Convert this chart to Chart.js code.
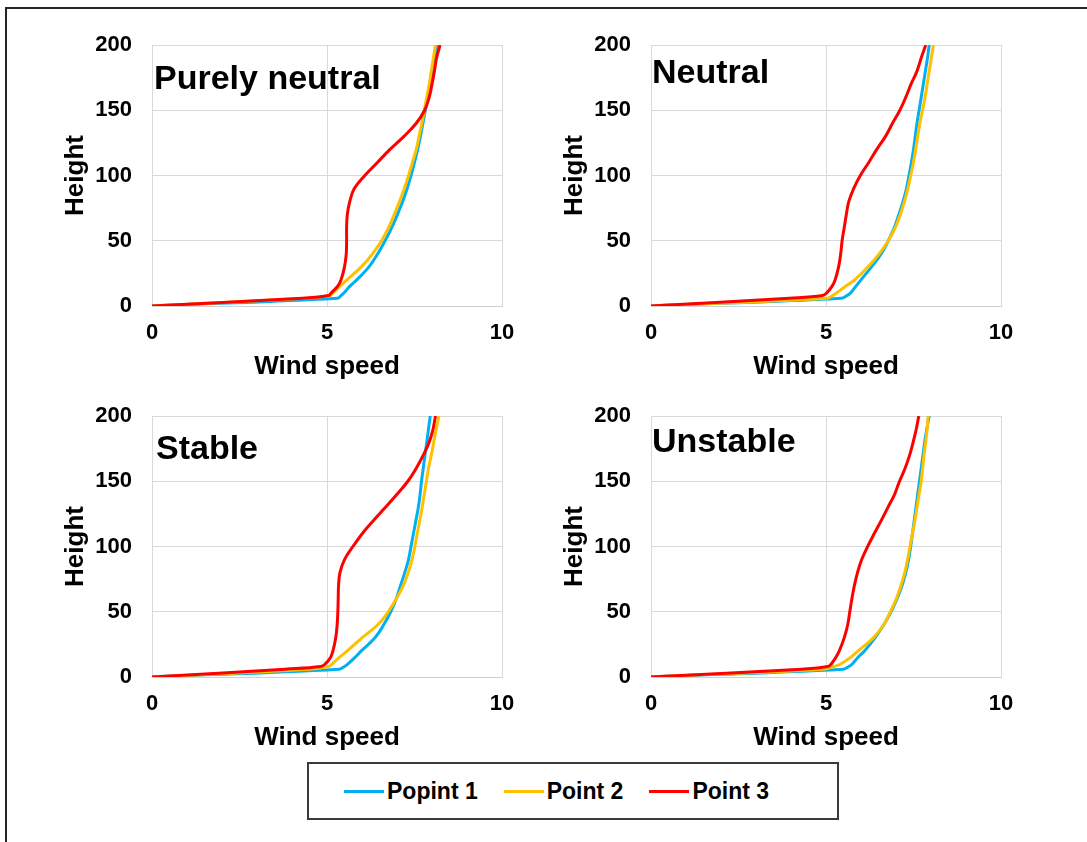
<!DOCTYPE html>
<html>
<head>
<meta charset="utf-8">
<title>Wind profiles</title>
<script src="https://cdn.jsdelivr.net/npm/chart.js@4.4.1/dist/chart.umd.min.js"></script>
<style>
  html, body { margin: 0; padding: 0; background: #fff; overflow: hidden; }
  body { width: 1087px; height: 842px; position: relative; font-family: "Liberation Sans", Arial, sans-serif; }
  .frame { position: absolute; left: 5px; top: 7px; width: 1110px; height: 880px; border: 2px solid #262626; }
  .panel { position: absolute; }
  #legend {
    position: absolute; left: 307px; top: 762px; width: 532px; height: 58px;
    box-sizing: border-box; border: 2px solid #3a3a3a;
    display: flex; align-items: center; padding-left: 35px;
    font-weight: bold; font-size: 23px; color: #000;
  }
  #legend .item { display: flex; align-items: center; margin-right: 26px; }
  #legend .swatch { width: 40px; height: 3px; margin-right: 3px; }
</style>
</head>
<body>
<div class="frame"></div>
<canvas id="c0" class="panel" width="520" height="372" style="left:20px;top:10px"></canvas>
<canvas id="c1" class="panel" width="520" height="372" style="left:519px;top:10px"></canvas>
<canvas id="c2" class="panel" width="520" height="372" style="left:20px;top:381px"></canvas>
<canvas id="c3" class="panel" width="520" height="372" style="left:519px;top:381px"></canvas>
<div id="legend"></div>

<script>
// ---------- data ----------
const heights = [0, 6, 8, 10, 15, 20, 30, 40, 50, 60, 70, 80, 90, 100, 110, 120, 130, 140, 150, 160, 170, 180, 190, 200];

const seriesNames = ["Popint 1", "Point 2", "Point 3"];
const seriesColors = ["#00b0f0", "#ffc000", "#ff0000"];
const panelTitles = ["Purely neutral", "Neutral", "Stable", "Unstable"];

const xTicks = [0, 5, 10];
const yTicks = [0, 50, 100, 150, 200];

// wind speed at each height
const pureNeutralP1 = [0, 5.3, 5.4, 5.48, 5.65, 5.85, 6.2, 6.45, 6.66, 6.85, 7.01, 7.16, 7.29, 7.4, 7.5, 7.59, 7.67, 7.74, 7.81, 7.88, 7.95, 8.02, 8.08, 8.15];
const pureNeutralP2 = [0, 4.4, 5.08, 5.17, 5.37, 5.57, 5.98, 6.3, 6.56, 6.76, 6.92, 7.07, 7.21, 7.33, 7.44, 7.55, 7.63, 7.71, 7.78, 7.85, 7.92, 7.98, 8.04, 8.1];
const pureNeutralP3 = [0, 4.3, 5.05, 5.12, 5.3, 5.4, 5.5, 5.55, 5.56, 5.56, 5.58, 5.65, 5.78, 6.08, 6.44, 6.8, 7.2, 7.55, 7.79, 7.92, 8.0, 8.07, 8.13, 8.23];

const neutralP1 = [0, 5.45, 5.6, 5.7, 5.85, 6.0, 6.3, 6.58, 6.78, 6.95, 7.08, 7.2, 7.3, 7.37, 7.44, 7.5, 7.55, 7.6, 7.66, 7.72, 7.78, 7.84, 7.9, 7.95];
const neutralP2 = [0, 5.05, 5.19, 5.3, 5.55, 5.82, 6.2, 6.52, 6.78, 6.98, 7.12, 7.24, 7.34, 7.42, 7.5, 7.56, 7.62, 7.68, 7.76, 7.83, 7.89, 7.95, 8.01, 8.07];
const neutralP3 = [0, 3.95, 4.9, 5.02, 5.17, 5.26, 5.36, 5.42, 5.46, 5.52, 5.58, 5.65, 5.79, 5.98, 6.22, 6.45, 6.7, 6.9, 7.11, 7.28, 7.43, 7.6, 7.72, 7.85];

const stableP1 = [0, 5.35, 5.5, 5.6, 5.8, 5.98, 6.37, 6.62, 6.82, 6.98, 7.1, 7.22, 7.33, 7.4, 7.47, 7.54, 7.61, 7.66, 7.7, 7.75, 7.8, 7.85, 7.9, 7.95];
const stableP2 = [0, 4.5, 5.04, 5.15, 5.35, 5.58, 6.0, 6.45, 6.75, 6.98, 7.18, 7.32, 7.43, 7.51, 7.58, 7.65, 7.72, 7.78, 7.84, 7.9, 7.98, 8.05, 8.12, 8.2];
const stableP3 = [0, 3.8, 4.82, 4.95, 5.1, 5.17, 5.25, 5.29, 5.31, 5.32, 5.33, 5.37, 5.5, 5.74, 6.01, 6.33, 6.67, 7.0, 7.31, 7.55, 7.75, 7.92, 8.03, 8.1];

const unstableP1 = [0, 5.5, 5.65, 5.75, 5.91, 6.1, 6.4, 6.65, 6.86, 7.03, 7.17, 7.28, 7.36, 7.42, 7.47, 7.52, 7.57, 7.62, 7.67, 7.72, 7.77, 7.82, 7.88, 7.95];
const unstableP2 = [0, 4.9, 5.22, 5.42, 5.7, 5.92, 6.35, 6.65, 6.84, 7.01, 7.14, 7.25, 7.33, 7.4, 7.47, 7.54, 7.6, 7.66, 7.72, 7.76, 7.8, 7.85, 7.89, 7.92];
const unstableP3 = [0, 4.3, 5.05, 5.15, 5.28, 5.38, 5.52, 5.62, 5.68, 5.74, 5.81, 5.9, 6.02, 6.19, 6.38, 6.58, 6.77, 6.96, 7.1, 7.26, 7.39, 7.49, 7.58, 7.65];

const panelSeries = [
  [pureNeutralP1, pureNeutralP2, pureNeutralP3],
  [neutralP1, neutralP2, neutralP3],
  [stableP1, stableP2, stableP3],
  [unstableP1, unstableP2, unstableP3]
];

// where each regime name sits inside its plot area
const labelOffsets = [
  { dx: 2, dy: 44 },
  { dx: 1, dy: 38 },
  { dx: 4, dy: 43 },
  { dx: 1, dy: 36 }
];

// ---------- chart setup ----------
const FONT = "'Liberation Sans', Arial, sans-serif";
Chart.defaults.font.family = FONT;
Chart.defaults.color = "#000";

const panelLabel = {
  id: "panelLabel",
  afterDraw(chart, args, opts) {
    const { ctx, chartArea } = chart;
    ctx.save();
    ctx.font = "bold 34px " + FONT;
    ctx.fillStyle = "#000";
    ctx.textAlign = "left";
    ctx.textBaseline = "alphabetic";
    ctx.fillText(opts.text, chartArea.left + opts.dx, chartArea.top + opts.dy);
    ctx.restore();
  }
};

const tickFont = { size: 22, weight: "bold" };
const axisTitleFont = { size: 26, weight: "bold" };

function buildDatasets(seriesList) {
  return seriesList.map((speeds, i) => ({
    label: seriesNames[i],
    data: heights.map((h, k) => ({ x: speeds[k], y: h })),
    borderColor: seriesColors[i],
    backgroundColor: seriesColors[i],
    borderWidth: 3,
    pointRadius: 0,
    showLine: true,
    tension: 0.4,
    order: seriesList.length - i   // last series drawn on top
  }));
}

panelTitles.forEach((title, p) => {
  new Chart(document.getElementById("c" + p), {
    type: "scatter",
    data: { datasets: buildDatasets(panelSeries[p]) },
    plugins: [panelLabel],
    options: {
      responsive: false,
      animation: false,
      layout: { padding: { left: 0, top: 35, right: 38, bottom: 0 } },
      plugins: {
        legend: { display: false },
        tooltip: { enabled: false },
        panelLabel: { text: title, dx: labelOffsets[p].dx, dy: labelOffsets[p].dy }
      },
      scales: {
        x: {
          type: "linear",
          min: xTicks[0],
          max: xTicks[xTicks.length - 1],
          afterBuildTicks: s => { s.ticks = xTicks.map(v => ({ value: v })); },
          ticks: { padding: 14, color: "#000", font: tickFont },
          grid: { color: "#d9d9d9", lineWidth: 1, drawTicks: false },
          border: { display: true, color: "#d0d0d0" },
          title: { display: true, text: "Wind speed", color: "#000", font: axisTitleFont, padding: 0 },
          afterFit: s => { s.height = 76; }
        },
        y: {
          type: "linear",
          min: yTicks[0],
          max: yTicks[yTicks.length - 1],
          afterBuildTicks: s => { s.ticks = yTicks.map(v => ({ value: v })); },
          ticks: { padding: 20, color: "#000", font: tickFont },
          grid: { color: "#d9d9d9", lineWidth: 1, drawTicks: false },
          border: { display: true, color: "#d9d9d9" },
          title: { display: true, text: "Height", color: "#000", font: axisTitleFont, padding: { top: 40, bottom: 0 } },
          afterFit: s => { s.width = 132; }
        }
      }
    }
  });
});

// shared legend under the four panels
const legendBox = document.getElementById("legend");
seriesNames.forEach((name, i) => {
  const item = document.createElement("div");
  item.className = "item";
  const sw = document.createElement("span");
  sw.className = "swatch";
  sw.style.background = seriesColors[i];
  const txt = document.createElement("span");
  txt.textContent = name;
  item.appendChild(sw);
  item.appendChild(txt);
  legendBox.appendChild(item);
});
</script>
</body>
</html>
